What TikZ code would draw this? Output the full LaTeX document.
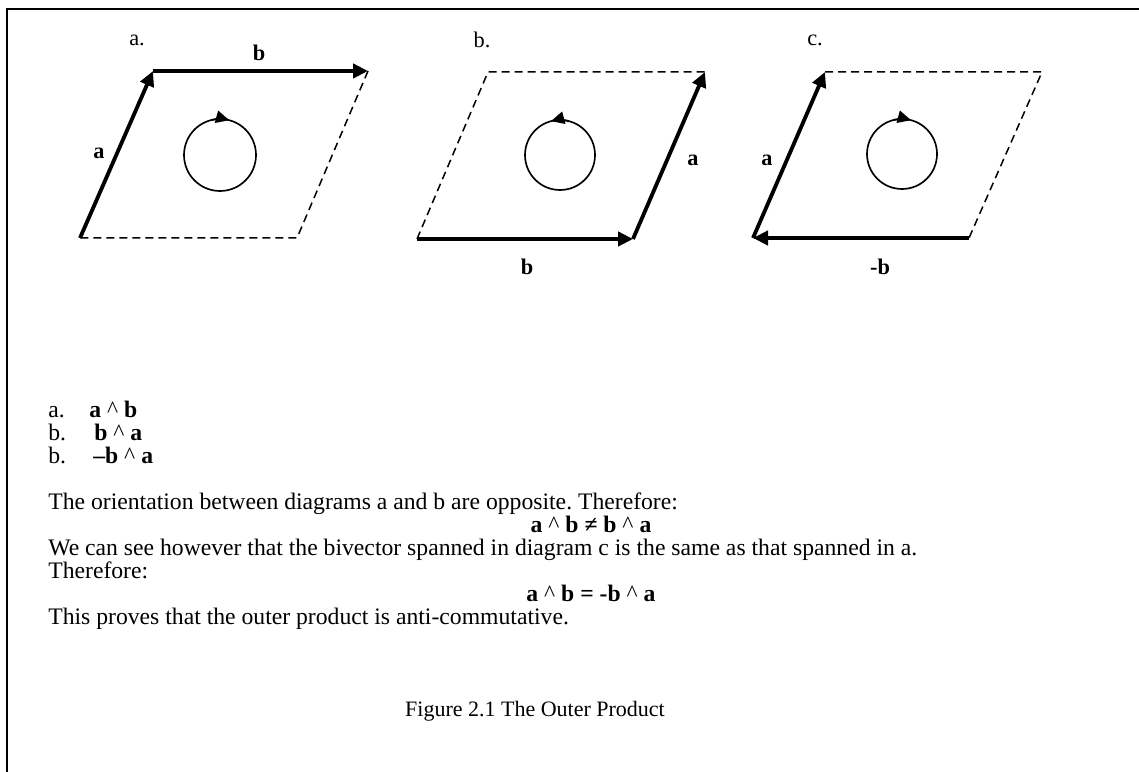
\documentclass[tikz,border=0pt]{standalone}
\usepackage{fontspec}
\setmainfont{Liberation Serif}
\usetikzlibrary{arrows.meta}
\frenchspacing
\begin{document}
\begin{tikzpicture}[x=0.6pt,y=-0.6pt,
  vec/.style={line width=2.3pt,-{Triangle[length=9pt,width=8.5pt]}},
  dashedge/.style={line width=0.9pt,dash pattern=on 4.8pt off 3pt},
  rot/.style={line width=1pt},
  rottip/.style={line width=1pt,-{Triangle[length=8pt,width=7.5pt]}},
  lbl/.style={inner sep=0pt,font=\fontsize{13.4}{15}\selectfont},
  txt/.style={inner sep=0pt,anchor=base west,font=\fontsize{14.2}{15}\selectfont},
  ctr/.style={inner sep=0pt,anchor=base,font=\fontsize{14.2}{15}\selectfont},
  captxt/.style={inner sep=0pt,anchor=base,font=\fontsize{13.2}{15}\selectfont}]
\useasboundingbox (0,0) rectangle (1139,772);
% frame
\coordinate (fb) at (7,772);
\coordinate (ftl) at (7,9);
\coordinate (ftr) at (1139,9);
\draw[line width=1.3pt] (fb) -- (ftl) -- (ftr);

% ---------- diagram a ----------
\coordinate (a1) at (80,238);
\coordinate (a2) at (153,71);
\coordinate (a3) at (368,71);
\coordinate (a4) at (297,238);
\coordinate (ac) at (220,155);
\draw[dashedge] (a3) -- (a4) -- (a1);
\draw[vec] (a1) -- (a2);
\draw[vec] (a2) -- (a3);
\draw[rot] (ac) circle (36);
\draw[rottip] (ac) ++(255:36) arc[start angle=255,end angle=285,radius=36];
\node[lbl] (la) at (137,40) {a.};
\node[lbl] (lab) at (259,53) {\textbf{b}};
\node[lbl] (laa) at (99,153) {\textbf{a}};

% ---------- diagram b ----------
\coordinate (b1) at (417,239);
\coordinate (b2) at (633,239);
\coordinate (b3) at (705,72);
\coordinate (b4) at (488,72);
\coordinate (bc) at (560,155);
\draw[dashedge] (b1) -- (b4) -- (b3);
\draw[vec] (b1) -- (b2);
\draw[vec] (b2) -- (b3);
\draw[rot] (bc) circle (35);
\draw[rottip] (bc) ++(285:35) arc[start angle=285,end angle=255,radius=35];
\node[lbl] (lb) at (482,40) {b.};
\node[lbl] (lba) at (693,160) {\textbf{a}};
\node[lbl] (lbb) at (527,267) {\textbf{b}};

% ---------- diagram c ----------
\coordinate (c1) at (753,238);
\coordinate (c2) at (969,238);
\coordinate (c3) at (1042,72);
\coordinate (c4) at (825,72);
\coordinate (cc) at (902,154);
\draw[dashedge] (c4) -- (c3) -- (c2);
\draw[vec] (c1) -- (c4);
\draw[vec] (c2) -- (c1);
\draw[rot] (cc) circle (35);
\draw[rottip] (cc) ++(255:35) arc[start angle=255,end angle=285,radius=35];
\node[lbl] (lc) at (815,40) {c.};
\node[lbl] (lca) at (767,160) {\textbf{a}};
\node[lbl] (lcb) at (880,267) {\textbf{-b}};

% ---------- text ----------
\node[txt] (t1) at (48,417) {a.};
\node[txt] (t1b) at (89,417) {\textbf{a} \^{} \textbf{b}};
\node[txt] (t2) at (48,440) {b.};
\node[txt] (t2b) at (94,440) {\textbf{b} \^{} \textbf{a}};
\node[txt] (t3) at (48,463) {b.};
\node[txt] (t3b) at (93,463) {\textbf{–b} \^{} \textbf{a}};
\node[txt] (t4) at (48,509) {The orientation between diagrams a and b are opposite. Therefore:};
\node[ctr] (e1) at (591,532) {\textbf{a} \^{} \textbf{b} \textbf{≠} \textbf{b} \^{} \textbf{a}};
\node[txt] (t5) at (48,555) {We can see however that the bivector spanned in diagram c is the same as that spanned in a.};
\node[txt] (t6) at (48,578) {Therefore:};
\node[ctr] (e2) at (591,601) {\textbf{a} \^{} \textbf{b} \textbf{= -b} \^{} \textbf{a}};
\node[txt] (t7) at (48,624) {This proves that the outer product is anti-commutative.};
\node[captxt] (cap) at (535,716) {Figure 2.1 The Outer Product};
\end{tikzpicture}
\end{document}
